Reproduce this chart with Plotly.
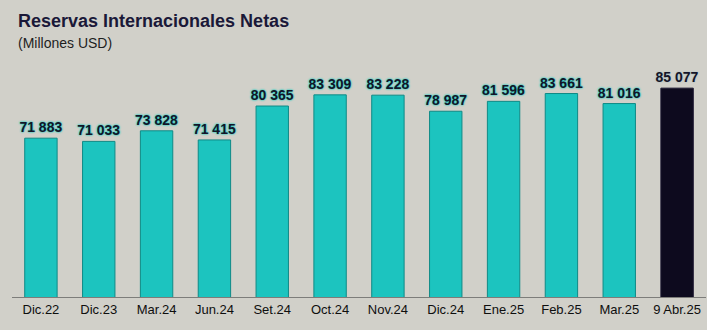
import plotly.graph_objects as go

# Net international reserves, millions of USD
periods = ["Dic.22", "Dic.23", "Mar.24", "Jun.24", "Set.24", "Oct.24",
           "Nov.24", "Dic.24", "Ene.25", "Feb.25", "Mar.25", "9 Abr.25"]
reserves = [71883, 71033, 73828, 71415, 80365, 83309,
            83228, 78987, 81596, 83661, 81016, 85077]


def fmt(v):
    return f"{v:,}".replace(",", " ")


labels = [fmt(v) for v in reserves]

teal = "#1cc4bf"
teal_edge = "#0f8a86"
dark = "#0d0a1e"
label_font = dict(family="Liberation Sans, Arial, sans-serif", size=14, color="#141428")

fig = go.Figure()

# Monthly / period-end bars
fig.add_trace(go.Bar(
    x=periods[:-1], y=reserves[:-1], text=labels[:-1],
    textposition="outside", constraintext="none",
    marker=dict(color=teal, line=dict(color=teal_edge, width=1)),
    textfont=dict(**label_font, weight="bold",
                  shadow="0px 0px 2px #22cfc3, 0px 0px 2px #22cfc3"),
    width=0.56,
))

# Latest reading, highlighted
fig.add_trace(go.Bar(
    x=periods[-1:], y=reserves[-1:], text=labels[-1:],
    textposition="outside", constraintext="none",
    marker=dict(color=dark, line=dict(color="#1a1630", width=1)),
    textfont=dict(**label_font, weight="bold",
                  shadow="0px 0px 2px #9ab8c0"),
    width=0.56,
))

bg = "#d1d0c9"
fig.update_layout(
    width=707, height=330,
    margin=dict(l=12, r=1, t=60, b=33),
    paper_bgcolor=bg, plot_bgcolor=bg,
    barmode="overlay",
    showlegend=False,
    font=dict(family="Liberation Sans, Arial, sans-serif", color="#111111"),
    xaxis=dict(
        categoryorder="array", categoryarray=periods,
        showline=True, linecolor="#7d7d7a", linewidth=1,
        ticks="", tickfont=dict(size=13, color="#0e0e0e"),
        showgrid=False, zeroline=False,
    ),
    yaxis=dict(
        range=[30000, 92500], visible=False,
        showgrid=False, zeroline=False,
    ),
    annotations=[
        dict(text="<b>Reservas Internacionales Netas</b>",
             xref="paper", yref="paper", x=0, y=1,
             xanchor="left", yanchor="middle", xshift=4, yshift=39,
             showarrow=False,
             font=dict(size=18, color="#1a1838")),
        dict(text="(Millones USD)",
             xref="paper", yref="paper", x=0, y=1,
             xanchor="left", yanchor="middle", xshift=4, yshift=17,
             showarrow=False,
             font=dict(size=14, color="#1e1e1e")),
    ],
)

fig.write_html("out.html")
